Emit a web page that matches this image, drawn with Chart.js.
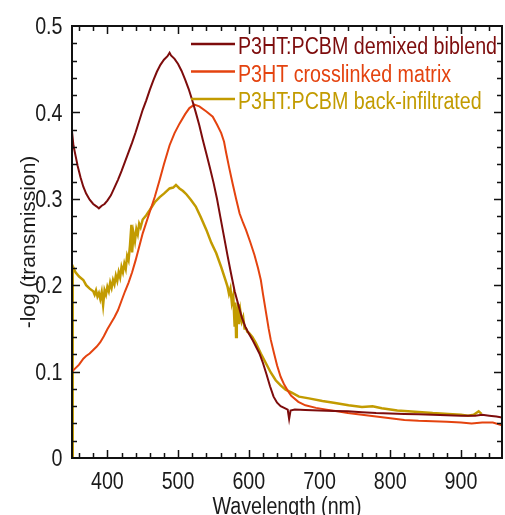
<!DOCTYPE html>
<html>
<head>
<meta charset="utf-8">
<script src="https://cdn.jsdelivr.net/npm/chart.js@4.4.1/dist/chart.umd.min.js"></script>
<style>
  html, body { margin: 0; padding: 0; background: #fff; }
</style>
</head>
<body>
<canvas id="absChart" width="505" height="515"></canvas>
<script>
// labels
const seriesNames = ['P3HT:PCBM demixed biblend', 'P3HT crosslinked matrix', 'P3HT:PCBM back-infiltrated'];
const seriesColors = ['#7d0c0c', '#e4430f', '#c29b00'];
const seriesWidths = [2, 2, 2.5];
const xTicks = [400, 500, 600, 700, 800, 900];
const xTickLabels = ['400', '500', '600', '700', '800', '900'];
const yTicks = [0, 0.1, 0.2, 0.3, 0.4, 0.5];
const yTickLabels = ['0', '0.1', '0.2', '0.3', '0.4', '0.5'];

// P3HT:PCBM demixed biblend
const biblendNm = [350, 352, 355, 358, 362, 366, 370, 375, 380, 385, 388, 392, 396, 400, 405, 410, 415, 420, 425, 430,
  435, 440, 445, 450, 455, 460, 465, 470, 475, 480, 485, 488, 490, 495, 500, 505, 510, 515, 520, 525,
  530, 535, 540, 545, 550, 555, 560, 565, 570, 575, 580, 585, 590, 595, 600, 605, 610, 615, 620, 625,
  630, 635, 640, 645, 650, 655, 657, 659, 665, 680, 700, 720, 740, 760, 780, 800, 820, 840, 860, 880,
  900, 920, 930, 940, 950, 958];
const biblendVal = [0.378, 0.362, 0.350, 0.338, 0.325, 0.314, 0.306, 0.299, 0.294, 0.291, 0.289, 0.292, 0.294, 0.298, 0.304, 0.313, 0.322, 0.332, 0.343, 0.354,
  0.365, 0.377, 0.390, 0.403, 0.414, 0.426, 0.437, 0.447, 0.455, 0.461, 0.465, 0.469, 0.466, 0.462, 0.456, 0.448, 0.438, 0.427, 0.414, 0.400,
  0.385, 0.368, 0.352, 0.336, 0.319, 0.300, 0.278, 0.256, 0.234, 0.213, 0.193, 0.178, 0.163, 0.152, 0.144, 0.137, 0.129, 0.121, 0.110, 0.097,
  0.083, 0.071, 0.064, 0.060, 0.058, 0.056, 0.045, 0.055, 0.056, 0.0555, 0.055, 0.0545, 0.054, 0.053, 0.052, 0.0515, 0.051, 0.0505, 0.050, 0.0495,
  0.049, 0.049, 0.050, 0.049, 0.048, 0.047];

// P3HT crosslinked matrix
const matrixNm = [350, 355, 360, 366, 370, 375, 380, 385, 390, 395, 400, 405, 410, 415, 420, 425, 430, 435, 440, 450,
  460, 467, 474, 480, 488, 495, 502, 510, 516, 523, 530, 540, 549, 555, 561, 565, 568, 572, 577, 582,
  587, 592, 596, 602, 608, 613, 617, 620, 624, 628, 631, 636, 640, 645, 650, 655, 660, 670, 680, 695,
  710, 725, 740, 760, 780, 800, 820, 840, 860, 880, 900, 915, 930, 945, 958];
const matrixVal = [0.100, 0.104, 0.108, 0.115, 0.118, 0.121, 0.125, 0.129, 0.134, 0.141, 0.149, 0.156, 0.163, 0.171, 0.182, 0.193, 0.203, 0.215, 0.229, 0.260,
  0.285, 0.302, 0.322, 0.340, 0.362, 0.376, 0.387, 0.398, 0.405, 0.409, 0.407, 0.401, 0.395, 0.386, 0.376, 0.366, 0.353, 0.337, 0.318, 0.300,
  0.283, 0.272, 0.264, 0.250, 0.235, 0.220, 0.206, 0.190, 0.170, 0.150, 0.137, 0.120, 0.107, 0.094, 0.085, 0.078, 0.072, 0.065, 0.061, 0.058,
  0.056, 0.054, 0.052, 0.050, 0.048, 0.046, 0.044, 0.043, 0.0425, 0.042, 0.041, 0.040, 0.041, 0.041, 0.038];

// P3HT:PCBM back-infiltrated (noisy trace)
const infilNm = [350, 351, 355, 360, 366, 370, 375, 380, 382, 384, 386, 388, 390, 392, 394, 396, 398, 400, 402, 404,
  406, 408, 410, 412, 414, 416, 418, 420, 422, 424, 426, 428, 430, 432, 434, 435, 437, 439, 441, 443,
  445, 447, 450, 455, 460, 467, 474, 480, 488, 493, 497, 502, 507, 512, 518, 525, 532, 540, 547, 554,
  561, 567, 570, 572, 574, 576, 578, 580, 581, 582, 583, 584, 585, 586, 588, 590, 592, 594, 596, 598,
  600, 605, 610, 617, 624, 631, 638, 645, 652, 660, 671, 685, 704, 720, 741, 760, 775, 788, 810, 835,
  860, 882, 900, 910, 918, 925, 929];
const infilVal = [0.000, 0.222, 0.215, 0.210, 0.206, 0.200, 0.196, 0.193, 0.189, 0.194, 0.187, 0.191, 0.184, 0.192, 0.177, 0.194, 0.189, 0.198, 0.193, 0.203,
  0.197, 0.206, 0.201, 0.211, 0.205, 0.215, 0.209, 0.221, 0.215, 0.225, 0.219, 0.234, 0.229, 0.246, 0.270, 0.238, 0.260, 0.251, 0.265, 0.259,
  0.271, 0.267, 0.276, 0.281, 0.287, 0.296, 0.302, 0.306, 0.312, 0.313, 0.316, 0.312, 0.309, 0.305, 0.299, 0.291, 0.279, 0.264, 0.249, 0.237,
  0.221, 0.206, 0.198, 0.190, 0.196, 0.180, 0.188, 0.152, 0.180, 0.140, 0.175, 0.160, 0.178, 0.155, 0.170, 0.158, 0.163, 0.150, 0.150, 0.146,
  0.145, 0.140, 0.133, 0.121, 0.110, 0.099, 0.090, 0.084, 0.079, 0.076, 0.071, 0.069, 0.066, 0.064, 0.061, 0.059, 0.060, 0.0575, 0.055, 0.0536,
  0.052, 0.051, 0.050, 0.049, 0.050, 0.054, 0.051];

const FONT = "'Liberation Sans', Arial, sans-serif";
const SQUEEZE = 0.855; // the reference lettering is narrow
Chart.defaults.font.family = FONT;

function toPoints(xs, ys) {
    return xs.map((x, i) => ({ x: x, y: ys[i] }));
}

function narrowText(ctx, text, x, y, align) {
    ctx.save();
    ctx.translate(x, y);
    ctx.scale(SQUEEZE, 1);
    ctx.textAlign = align;
    ctx.fillText(text, 0, 0);
    ctx.restore();
}

// frame, inward ticks on four sides, tick labels, legend, axis titles
const framePlugin = {
    id: 'frame',
    afterDatasetsDraw(chart) {
        const ctx = chart.ctx;
        const a = chart.chartArea;
        const xs = chart.scales.x;
        const ys = chart.scales.y;
        ctx.save();
        ctx.strokeStyle = '#111';
        ctx.lineWidth = 2;
        ctx.strokeRect(a.left, a.top, a.right - a.left, a.bottom - a.top);

        ctx.lineWidth = 1.5;
        ctx.beginPath();
        for (let v = 360; v < xs.max; v += 20) {
            const px = Math.round(xs.getPixelForValue(v)) + 0.5;
            const len = v % 100 === 0 ? 8 : 5;
            ctx.moveTo(px, a.bottom); ctx.lineTo(px, a.bottom - len);
            ctx.moveTo(px, a.top); ctx.lineTo(px, a.top + len);
        }
        for (let i = 1; i < 25; i++) {
            const py = Math.round(ys.getPixelForValue(i * 0.02)) + 0.5;
            const len = i % 5 === 0 ? 8 : 5;
            ctx.moveTo(a.left, py); ctx.lineTo(a.left + len, py);
            ctx.moveTo(a.right, py); ctx.lineTo(a.right - len, py);
        }
        ctx.stroke();

        ctx.font = '23px ' + FONT;
        ctx.textBaseline = 'alphabetic';
        ctx.fillStyle = '#1a1a1a';
        xTicks.forEach((v, i) => {
            narrowText(ctx, xTickLabels[i], xs.getPixelForValue(v), a.bottom + 30.5, 'center');
        });
        yTicks.forEach((v, i) => {
            narrowText(ctx, yTickLabels[i], a.left - 9.5, ys.getPixelForValue(v) + 8.2, 'right');
        });

        // legend
        ctx.lineWidth = 2.5;
        seriesNames.forEach((name, i) => {
            const y = 44 + i * 27.5;
            ctx.strokeStyle = seriesColors[i];
            ctx.beginPath();
            ctx.moveTo(191, y); ctx.lineTo(235, y);
            ctx.stroke();
            ctx.fillStyle = seriesColors[i];
            narrowText(ctx, name, 238, y + 10.2, 'left');
        });

        // axis titles
        ctx.fillStyle = '#1a1a1a';
        narrowText(ctx, 'Wavelength (nm)', (a.left + a.right) / 2, 513.5, 'center');
        ctx.font = '21px ' + FONT;
        ctx.translate(35, (a.top + a.bottom) / 2);
        ctx.rotate(-Math.PI / 2);
        ctx.textAlign = 'center';
        ctx.fillText('-log (transmission)', 0, 0);
        ctx.restore();
    }
};

const datasets = [
    [biblendNm, biblendVal],
    [matrixNm, matrixVal],
    [infilNm, infilVal]
].map((s, i) => ({
    label: seriesNames[i],
    data: toPoints(s[0], s[1]),
    borderColor: seriesColors[i],
    backgroundColor: seriesColors[i],
    borderWidth: seriesWidths[i],
    pointRadius: 0,
    tension: 0,
    fill: false
}));

new Chart(document.getElementById('absChart'), {
    type: 'line',
    data: { datasets: datasets },
    options: {
        responsive: false,
        devicePixelRatio: 1,
        animation: false,
        layout: { padding: { left: 0, top: 26, right: 3, bottom: 0 } },
        plugins: {
            legend: { display: false },
            tooltip: { enabled: false }
        },
        scales: {
            x: {
                type: 'linear',
                min: 350,
                max: 958,
                afterFit: s => { s.height = 57; },
                afterBuildTicks: s => { s.ticks = xTicks.map(v => ({ value: v })); },
                grid: { display: false, drawTicks: false },
                border: { display: false },
                ticks: { display: false }
            },
            y: {
                type: 'linear',
                min: 0,
                max: 0.5,
                afterFit: s => { s.width = 72; },
                afterBuildTicks: s => { s.ticks = yTicks.map(v => ({ value: v })); },
                grid: { display: false, drawTicks: false },
                border: { display: false },
                ticks: { display: false }
            }
        }
    },
    plugins: [framePlugin]
});
</script>
</body>
</html>
